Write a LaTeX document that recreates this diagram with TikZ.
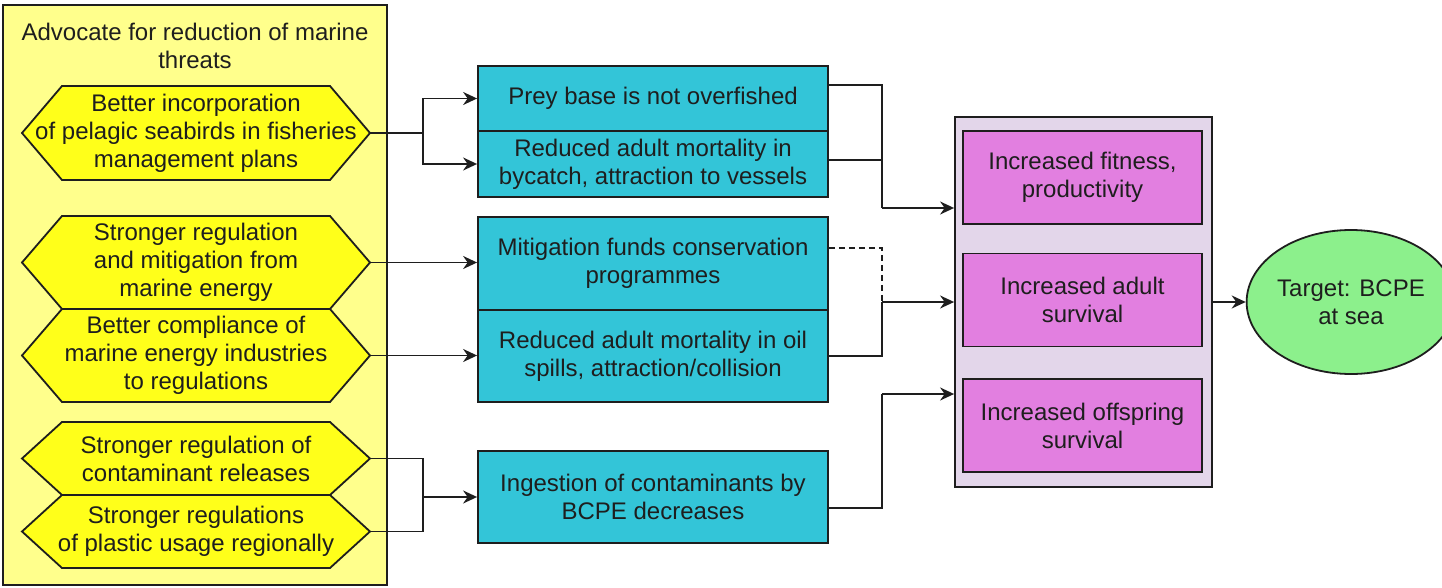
\documentclass[tikz,border=0pt]{standalone}
\usepackage{fontspec}
\setmainfont{Liberation Sans}
\usetikzlibrary{arrows.meta,shapes.geometric,calc}
\definecolor{outeryel}{HTML}{FFFF8C}
\definecolor{hexyel}{HTML}{FFFF1A}
\definecolor{cyanbox}{HTML}{33C5D8}
\definecolor{pinkbox}{HTML}{E27FE0}
\definecolor{lavender}{HTML}{E3D6EA}
\definecolor{goalgreen}{HTML}{8CF08C}
\definecolor{ink}{HTML}{1E1E1E}
\newcommand\hexnode[4]{%
  \draw[hexline] (62,{#2-#3/2}) -- (330,{#2-#3/2}) -- (370,#2) -- (330,{#2+#3/2}) -- (62,{#2+#3/2}) -- (22,#2) -- cycle;
  \node[txt, minimum width=348pt, minimum height=#3pt] (#1) at (196,#2) {#4};
}
\begin{document}
\begin{tikzpicture}[x=1pt,y=-1pt,
  font=\fontsize{24}{28}\selectfont,
  every node/.style={text=ink},
  txt/.style={align=center, inner sep=0pt},
  hexline/.style={draw=ink, line width=1.8pt, fill=hexyel, line join=miter},
  cbox/.style={draw=ink, line width=1.8pt, fill=cyanbox, minimum width=350pt, align=center, inner sep=0pt},
  pbox/.style={draw=ink, line width=1.8pt, fill=pinkbox, minimum width=239pt, minimum height=93pt, align=center, inner sep=0pt},
  conn/.style={draw=ink, line width=1.8pt},
  arr/.style={conn, -{Stealth[length=14pt,width=13pt]}},
]
\useasboundingbox (0,0) rectangle (1442,588);
% outer yellow group
\draw[draw=ink, line width=1.8pt, fill=outeryel] (3,5) rectangle (387,585);
\node[txt] (title) at (195,46) {Advocate for reduction of marine\\threats};
% hexagons
\hexnode{h1}{133}{94}{Better incorporation\\of pelagic seabirds in fisheries\\management plans}
\hexnode{h2}{262.5}{93}{Stronger regulation\\and mitigation from\\marine energy}
\hexnode{h3}{355.5}{93}{Better compliance of\\marine energy industries\\to regulations}
\hexnode{h4}{458.5}{73}{Stronger regulation of\\contaminant releases}
\hexnode{h5}{531.5}{73}{Stronger regulations\\of plastic usage regionally}
% cyan boxes
\node[cbox, minimum height=65pt] (cA) at (653,98.5) {Prey base is not overfished};
\node[cbox, minimum height=66pt] (cB) at (653,164) {Reduced adult mortality in\\bycatch, attraction to vessels};
\node[cbox, minimum height=93pt] (cC) at (653,263.5) {Mitigation funds conservation\\programmes};
\node[cbox, minimum height=92pt] (cD) at (653,356) {Reduced adult mortality in oil\\spills, attraction/collision};
\node[cbox, minimum height=92pt] (cE) at (653,497) {Ingestion of contaminants by\\BCPE decreases};
% container and pink boxes
\node[draw=ink, line width=1.8pt, fill=lavender, minimum width=257pt, minimum height=370pt, inner sep=0pt] (cont) at (1083.5,302) {};
\node[pbox] (p1) at (1082.5,177.5) {Increased fitness,\\productivity};
\node[pbox] (p2) at (1082.5,300) {Increased adult\\survival};
\node[pbox] (p3) at (1082.5,425.5) {Increased offspring\\survival};
% goal
\node[ellipse, draw=ink, line width=1.8pt, fill=goalgreen, minimum width=172pt, minimum height=144pt, align=center, inner sep=0pt] (goal) at (1351,302) {Target: BCPE\\at sea};
% left connectors
\coordinate (j1) at (423,133);
\draw[conn] (h1.east) -- (j1);
\draw[arr] (j1) |- (cA.west);
\draw[arr] (j1) |- (cB.west);
\draw[arr] (h2.east) -- (h2.east -| cC.west);
\draw[arr] (h3.east) -- (h3.east -| cD.west);
\coordinate (j2) at (423,497);
\draw[conn] (h4.east) -| (j2);
\draw[conn] (h5.east) -| (j2);
\draw[arr] (j2) -- (cE.west);
% right connectors
\coordinate (r1) at (882,208);
\coordinate (r2) at (882,302);
\coordinate (r3) at (882,394);
\draw[conn] ([yshift=13.5pt]cA.east) -| (r1);
\draw[conn] ([yshift=4pt]cB.east) -| (r1);
\draw[arr] (r1) -- (r1 -| cont.west);
\draw[conn, dashed, dash pattern=on 6pt off 4pt] ([yshift=15.5pt]cC.east) -| (r2);
\draw[conn] (cD.east) -| (r2);
\draw[arr] (r2) -- (cont.west);
\draw[conn] ([yshift=-11pt]cE.east) -| (r3);
\draw[arr] (r3) -- (r3 -| cont.west);
\draw[arr] (cont.east) -- (goal.west);
\end{tikzpicture}
\end{document}
